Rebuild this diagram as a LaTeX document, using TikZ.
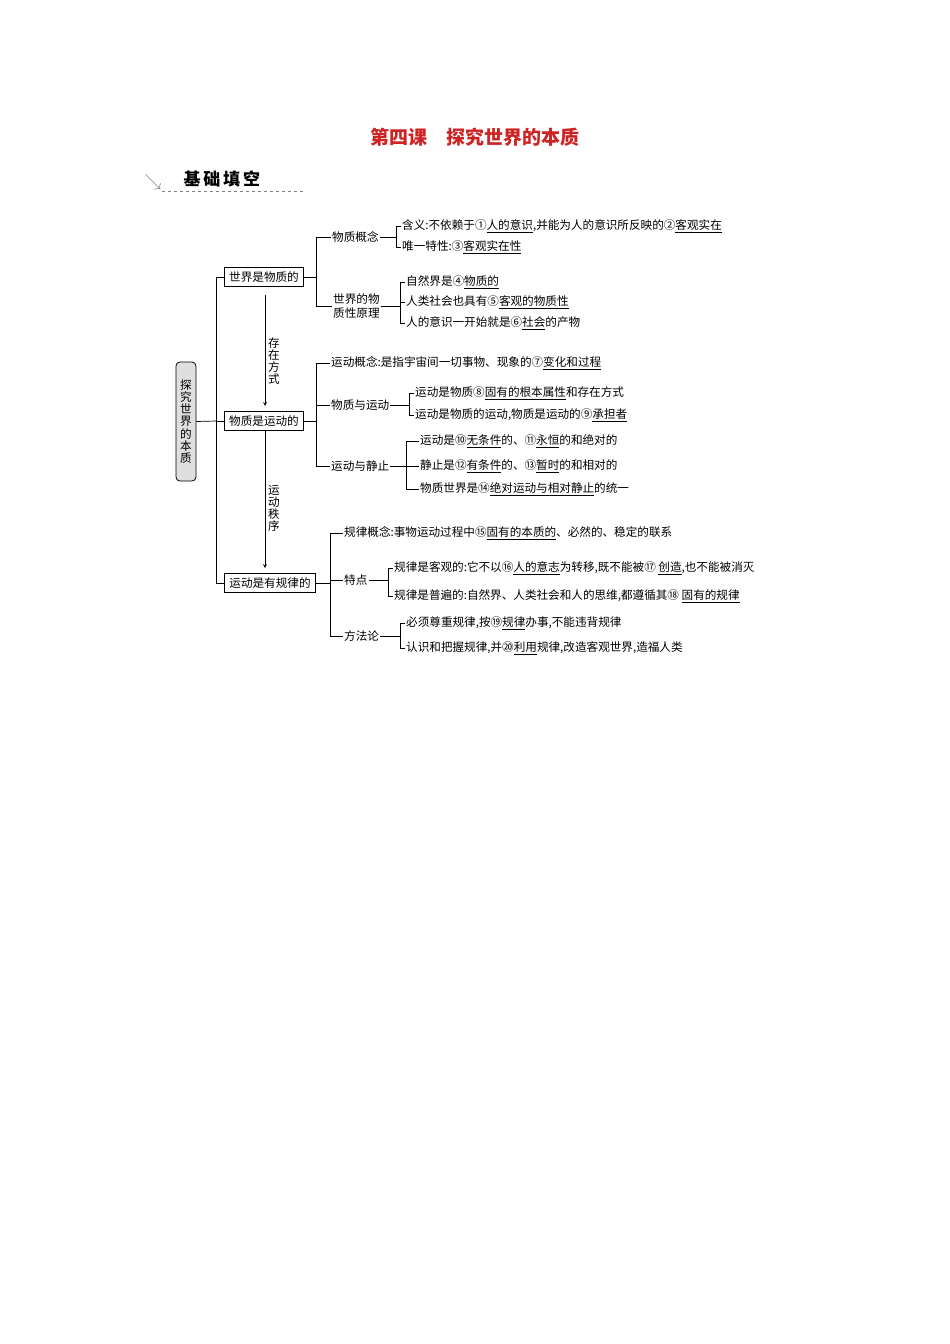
\documentclass[tikz,border=0pt]{standalone}
\usepackage{fontspec}
\setmainfont{Noto Sans CJK SC}
\newfontfamily\cjk{Noto Sans CJK SC}
\newcommand{\myul}[1]{\underline{#1}}
\definecolor{titlered}{RGB}{205,35,35}
\tikzset{
  t/.style={anchor=west,inner sep=1pt,font=\fontsize{11.6}{13}\selectfont},
  bx/.style={draw,thick,inner xsep=5pt,inner ysep=4pt,font=\fontsize{11.6}{13}\selectfont},
  ln/.style={line width=0.7pt},
}
\begin{document}
\begin{tikzpicture}[x=1pt,y=-1pt]
\useasboundingbox (0,0) rectangle (950,1344);
\node[text=titlered,font=\fontsize{19}{22}\selectfont\bfseries] (title) at (475,137) {第四课\quad 探究世界的本质};
\node[text=gray,font=\fontsize{16}{18}\selectfont] (arr) at (153,182) {$\searrow$};
\node[font=\fontsize{17}{19}\selectfont\bfseries,anchor=west] (head) at (180,179) {基\,础\,填\,空};
\draw[dashed,gray] (162,191) -- (306,191);
% root
\node[draw,thick,rounded corners=4pt,fill=gray!25,minimum width=20pt,minimum height=119pt,align=center,inner sep=1pt,font=\fontsize{11.6}{12.2}\selectfont] (root) at (186,421.5) {探\\究\\世\\界\\的\\本\\质};
\node[bx] (b1) at (264,277) {世界是物质的};
\node[bx] (b2) at (264,421) {物质是运动的};
\node[bx] (b3) at (270,583) {运动是有规律的};
\coordinate (sp) at (216,421);
\draw[ln] (root.east) -- (sp);
\draw[ln] (sp) |- (b1.west);
\draw[ln] (sp) |- (b2.west);
\draw[ln] (sp) |- (b3.west);
\draw[ln,-stealth] (b1.south -| 265,0) ++(0,8) -- (265,406);
\draw[ln,-stealth] (b2.south -| 265,0) -- (265,568);
\node[t,anchor=center,align=center,font=\fontsize{11.6}{12}\selectfont] (l1) at (274,361) {存\\在\\方\\式};
\node[t,anchor=center,align=center,font=\fontsize{11.6}{12}\selectfont] (l2) at (274,508) {运\\动\\秩\\序};
% box1 branches
\node[t] (c1) at (331,237) {物质概念};
\node[t,align=left,font=\fontsize{11.6}{14}\selectfont] (c2) at (332,306) {世界的物\\质性原理};
\draw[ln] (b1.east) -- (316,277) |- (c1.west);
\draw[ln] (316,277) |- (c2.west);
\node[t] (d1) at (401,226) {含义:不依赖于①\myul{人的意识},并能为人的意识所反映的②\myul{客观实在}};
\node[t] (d2) at (401,247) {唯一特性:③\myul{客观实在性}};
\draw[ln] (c1.east) -- (396,237) |- (d1.west);
\draw[ln] (396,237) |- (d2.west);
\node[t] (e1) at (405,282) {自然界是④\myul{物质的}};
\node[t] (e2) at (405,302) {人类社会也具有⑤\myul{客观的物质性}};
\node[t] (e3) at (405,323) {人的意识一开始就是⑥\myul{社会}的产物};
\coordinate (e0) at (400,306);
\draw[ln] (c2.east) -- (e0);
\draw[ln] (e0) |- (e1.west);
\draw[ln] (e0) |- (e3.west);
\draw[ln] (e0) -- (e0 |- e2.west) -- (e2.west);
% box2 branches
\node[t] (f1) at (330,363) {运动概念:是指宇宙间一切事物、现象的⑦\myul{变化和过程}};
\node[t] (f2) at (330,405) {物质与运动};
\node[t] (f3) at (330,466) {运动与静止};
\draw[ln] (b2.east) -- (316,421) |- (f1.west);
\draw[ln] (316,421) |- (f2.west);
\draw[ln] (316,421) |- (f3.west);
\node[t] (g1) at (414,393) {运动是物质⑧\myul{固有的根本属性}和存在方式};
\node[t] (g2) at (414,415) {运动是物质的运动,物质是运动的⑨\myul{承担者}};
\draw[ln] (f2.east) -- (409,405) |- (g1.west);
\draw[ln] (409,405) |- (g2.west);
\node[t] (h1) at (419,441) {运动是⑩\myul{无条件}的、⑪\myul{永恒}的和绝对的};
\node[t] (h2) at (419,466) {静止是⑫\myul{有条件}的、⑬\myul{暂时}的和相对的};
\node[t] (h3) at (419,489) {物质世界是⑭\myul{绝对运动与相对静止}的统一};
\draw[ln] (f3.east) -- (h2.west);
\draw[ln] (406,466) |- (h1.west);
\draw[ln] (406,466) |- (h3.west);
% box3 branches
\node[t] (i1) at (343,533) {规律概念:事物运动过程中⑮\myul{固有的本质的}、必然的、稳定的联系};
\node[t] (i2) at (343,580) {特点};
\node[t] (i3) at (343,636) {方法论};
\draw[ln] (b3.east) -- (330,583) |- (i1.west);
\draw[ln] (330,583) |- (i2.west);
\draw[ln] (330,583) |- (i3.west);
\node[t] (j1) at (393,568) {规律是客观的:它不以⑯\myul{人的意志}为转移,既不能被⑰ \myul{创造},也不能被消灭};
\node[t] (j2) at (393,596) {规律是普遍的:自然界、人类社会和人的思维,都遵循其⑱ \myul{固有的规律}};
\draw[ln] (i2.east) -- (388,580) |- (j1.west);
\draw[ln] (388,580) |- (j2.west);
\node[t] (k1) at (405,623) {必须尊重规律,按⑲\myul{规律}办事,不能违背规律};
\node[t] (k2) at (405,648) {认识和把握规律,并⑳\myul{利用}规律,改造客观世界,造福人类};
\draw[ln] (i3.east) -- (400,636) |- (k1.west);
\draw[ln] (400,636) |- (k2.west);
\end{tikzpicture}
\end{document}
